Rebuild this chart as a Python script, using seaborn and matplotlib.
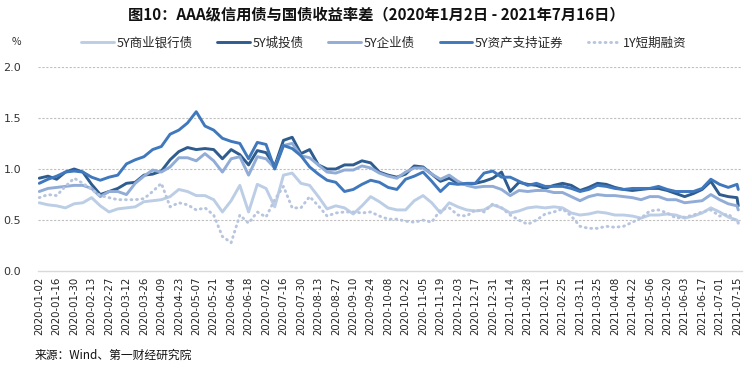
import numpy as np
import pandas as pd
import matplotlib
matplotlib.use("Agg")
import matplotlib.pyplot as plt
import seaborn as sns

# weekly readings, 2020-01-02 .. 2021-07-15, plus the final day 2021-07-16
dates = list(pd.date_range("2020-01-02", periods=81, freq="7D")) + [pd.Timestamp("2021-07-16")]

bank_5y = [0.67, 0.65, 0.64, 0.62, 0.66, 0.67, 0.72, 0.64, 0.58, 0.61,
           0.62, 0.63, 0.68, 0.69, 0.70, 0.73, 0.80, 0.78, 0.74, 0.74,
           0.70, 0.58, 0.69, 0.84, 0.58, 0.85, 0.81, 0.63, 0.94, 0.96,
           0.86, 0.84, 0.73, 0.61, 0.64, 0.62, 0.56, 0.64, 0.73, 0.68,
           0.62, 0.60, 0.60, 0.69, 0.74, 0.67, 0.57, 0.67, 0.63, 0.60,
           0.59, 0.60, 0.65, 0.62, 0.57, 0.59, 0.62, 0.63, 0.62, 0.63,
           0.62, 0.57, 0.55, 0.56, 0.58, 0.57, 0.55, 0.55, 0.54, 0.52,
           0.55, 0.55, 0.56, 0.55, 0.52, 0.54, 0.57, 0.62, 0.58, 0.53,
           0.50, 0.48]
lgfv_5y = [0.91, 0.93, 0.90, 0.97, 1.00, 0.97, 0.85, 0.75, 0.78, 0.81,
           0.86, 0.87, 0.94, 0.95, 0.98, 1.09, 1.17, 1.21, 1.19, 1.20,
           1.19, 1.10, 1.19, 1.14, 1.04, 1.18, 1.16, 1.03, 1.28, 1.31,
           1.15, 1.19, 1.04, 1.00, 1.00, 1.04, 1.04, 1.08, 1.06, 0.97,
           0.94, 0.92, 0.95, 1.03, 1.02, 0.95, 0.88, 0.91, 0.86, 0.85,
           0.86, 0.88, 0.91, 0.97, 0.78, 0.87, 0.85, 0.84, 0.81, 0.84,
           0.86, 0.84, 0.79, 0.82, 0.86, 0.85, 0.82, 0.80, 0.79, 0.80,
           0.81, 0.81, 0.79, 0.76, 0.73, 0.76, 0.80, 0.88, 0.75, 0.73,
           0.72, 0.64]
corp_5y = [0.78, 0.81, 0.82, 0.83, 0.84, 0.84, 0.81, 0.73, 0.78, 0.78,
           0.75, 0.86, 0.93, 0.99, 0.97, 1.02, 1.11, 1.11, 1.08, 1.15,
           1.08, 0.97, 1.10, 1.12, 0.94, 1.12, 1.10, 1.01, 1.23, 1.25,
           1.13, 1.11, 1.04, 0.97, 0.96, 0.99, 0.99, 1.03, 1.01, 0.96,
           0.93, 0.91, 0.97, 1.01, 1.01, 0.95, 0.90, 0.94, 0.88, 0.84,
           0.82, 0.83, 0.83, 0.80, 0.74, 0.79, 0.78, 0.79, 0.79, 0.77,
           0.77, 0.73, 0.69, 0.73, 0.75, 0.74, 0.74, 0.73, 0.72, 0.70,
           0.73, 0.73, 0.70, 0.70, 0.67, 0.68, 0.69, 0.75, 0.70, 0.66,
           0.64, 0.60]
abs_5y = [0.86, 0.90, 0.93, 0.97, 0.98, 0.97, 0.92, 0.89, 0.92, 0.94,
          1.05, 1.09, 1.12, 1.19, 1.22, 1.34, 1.38, 1.45, 1.56, 1.42,
          1.38, 1.30, 1.27, 1.25, 1.10, 1.26, 1.24, 1.00, 1.23, 1.20,
          1.13, 1.02, 0.95, 0.89, 0.87, 0.78, 0.80, 0.85, 0.89, 0.87,
          0.82, 0.80, 0.90, 0.93, 0.97, 0.88, 0.78, 0.86, 0.85, 0.86,
          0.86, 0.96, 0.98, 0.92, 0.92, 0.88, 0.84, 0.86, 0.83, 0.83,
          0.83, 0.81, 0.78, 0.80, 0.84, 0.83, 0.81, 0.80, 0.81, 0.81,
          0.81, 0.83, 0.80, 0.78, 0.78, 0.78, 0.81, 0.90, 0.85, 0.82,
          0.85, 0.80]
cp_1y = [0.72, 0.75, 0.74, 0.83, 0.91, 0.86, 0.80, 0.74, 0.72, 0.70,
         0.70, 0.70, 0.71, 0.78, 0.86, 0.63, 0.67, 0.65, 0.60, 0.62,
         0.55, 0.34, 0.28, 0.55, 0.47, 0.58, 0.53, 0.70, 0.83, 0.62,
         0.62, 0.73, 0.64, 0.54, 0.57, 0.58, 0.58, 0.57, 0.58, 0.54,
         0.51, 0.51, 0.49, 0.48, 0.50, 0.48, 0.60, 0.62, 0.55, 0.54,
         0.60, 0.58, 0.66, 0.62, 0.55, 0.50, 0.46, 0.50, 0.56, 0.58,
         0.61, 0.54, 0.44, 0.42, 0.42, 0.44, 0.43, 0.44, 0.48, 0.52,
         0.59, 0.60, 0.57, 0.52, 0.53, 0.55, 0.58, 0.60, 0.54, 0.56,
         0.48, 0.47]

names = ["5Y商业银行债", "5Y城投债", "5Y企业债", "5Y资产支持证券", "1Y短期融资"]
series = [bank_5y, lgfv_5y, corp_5y, abs_5y, cp_1y]
colors = ["#bccde6", "#2e5c8e", "#91acd6", "#4078bd", "#b8c5df"]
styles = ["-", "-", "-", "-", (0, (0.3, 1.6))]

sns.set_theme(style="white")
plt.rcParams["font.family"] = ["Noto Sans CJK SC", "DejaVu Sans"]

fig = plt.figure(figsize=(7.52, 3.72), dpi=100)
ax = fig.add_axes([38 / 752, 1 - 271.3 / 372, 704 / 752, 204.6 / 372])

for name, vals, c, ls in zip(names, series, colors, styles):
    sns.lineplot(x=dates, y=vals, ax=ax, color=c, linewidth=2.1,
                 linestyle=ls, label=name, dash_capstyle="round")

ax.set_ylim(0, 2.0)
ax.set_yticks([0.0, 0.5, 1.0, 1.5, 2.0])
ax.set_yticklabels([f"{v:.1f}" for v in [0.0, 0.5, 1.0, 1.5, 2.0]],
                   family="DejaVu Sans", fontsize=8, color="#333333")
ax.set_xlim(pd.Timestamp("2020-01-01"), pd.Timestamp("2021-07-19"))
ticks = pd.date_range("2020-01-02", "2021-07-15", freq="14D")
ax.set_xticks(ticks)
ax.set_xticklabels([t.strftime("%Y-%m-%d") for t in ticks], rotation=90,
                   family="DejaVu Sans", fontsize=7.3, color="#222222")
ax.tick_params(axis="both", length=0, pad=4)
ax.tick_params(axis="y", pad=12)
ax.set_xlabel("")
ax.set_ylabel("")

for v in [0.5, 1.0, 1.5, 2.0]:
    ax.axhline(v, color="#bfbfbf", lw=0.8, ls=(0, (2, 1.5)), zorder=0)
for s in ["top", "right", "left"]:
    ax.spines[s].set_visible(False)
ax.spines["bottom"].set_color("#d9d9d9")
ax.spines["bottom"].set_linewidth(1.0)

ax.get_legend().remove()
handles, labels = ax.get_legend_handles_labels()
fig.legend(handles, labels, loc="center", bbox_to_anchor=(384 / 752, 1 - 43 / 372),
           ncol=5, frameon=False, fontsize=9, handlelength=2.6,
           handletextpad=0.2, columnspacing=2.0)

fig.text(376 / 752, 1 - 14 / 372,
         "图10：AAA级信用债与国债收益率差（2020年1月2日 - 2021年7月16日）",
         ha="center", va="center", fontsize=11, fontweight="bold", color="#111111")
fig.text(12 / 752, 1 - 42 / 372, "%", ha="left", va="center", fontsize=7.5, color="#333333")
fig.text(35 / 752, 1 - 355 / 372, "来源：Wind、第一财经研究院",
         ha="left", va="center", fontsize=8.5, color="#111111")

fig.savefig("out.png", dpi=100)
